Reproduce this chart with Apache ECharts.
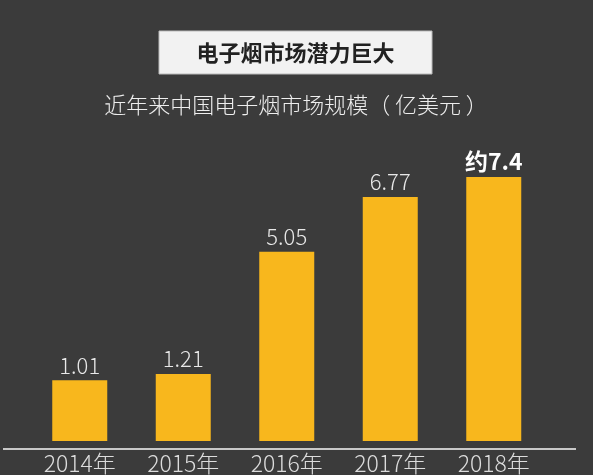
<!DOCTYPE html>
<html><head><meta charset="utf-8">
<script src="https://cdn.jsdelivr.net/npm/echarts@6/dist/echarts.min.js"></script>
<style>html,body{margin:0;padding:0;background:#3b3b3b}#c{width:593px;height:475px}</style>
</head><body><div id="c"></div>
<script>
const categories = ['2014年','2015年','2016年','2017年','2018年'];
const values = [1.01, 1.21, 5.05, 6.77, 7.4];
const valueLabels = ['1.01','1.21','5.05','6.77','约7.4'];
const chart = echarts.init(document.getElementById('c'));
const F = '"Noto Sans CJK SC", "Noto Sans", sans-serif';
chart.setOption({
  backgroundColor: '#3b3b3b',
  animation: false,
  grid: {left: 28, right: 47.5, top: 158, bottom: 26},
  xAxis: {type: 'category', data: categories,
    axisLine: {show: false}, axisTick: {show: false},
    axisLabel: {color: '#dcdcdc', fontSize: 23, fontFamily: F, fontWeight: 300, margin: 11}},
  yAxis: {type: 'value', min: -0.9, max: 8, show: false, splitLine: {show: false}},
  graphic: [
    {type: 'rect', shape: {x: 159, y: 31, width: 273, height: 43},
     style: {fill: '#f2f2f2', stroke: '#bbbbbb', lineWidth: 1}},
    {type: 'text', x: 295.5, y: 52.5, style: {text: '电子烟市场潜力巨大', fill: '#222', font: 'bold 22px ' + F, align: 'center', verticalAlign: 'middle'}},
    {type: 'text', x: 296, y: 105, style: {text: '近年来中国电子烟市场规模（ 亿美元 ）', fill: '#eeeeee', font: '300 22px ' + F, align: 'center', verticalAlign: 'middle'}},
    {type: 'line', shape: {x1: 3, y1: 449, x2: 576, y2: 449}, style: {stroke: '#c8c8c8', lineWidth: 2}, z: 10}
  ],
  series: [{
    type: 'custom',
    data: values.map((v, i) => [i, v]),
    renderItem: function (params, api) {
      const i = api.value(0), v = api.value(1);
      const top = api.coord([i, v]);
      const bottom = api.coord([i, -0.9]);
      const w = 55;
      const isLast = i === values.length - 1;
      return {type: 'group', children: [
        {type: 'rect', shape: {x: top[0] - w / 2, y: top[1], width: w, height: bottom[1] - top[1]},
         style: {fill: '#f8b71d'}},
        {type: 'text', x: top[0], y: top[1] - 4,
         style: {text: valueLabels[i], fill: isLast ? '#ffffff' : '#e8e8e8',
           font: (isLast ? 'bold 23px ' : '300 22px ') + F, align: 'center', verticalAlign: 'bottom'}}
      ]};
    }
  }]
});
</script></body></html>
